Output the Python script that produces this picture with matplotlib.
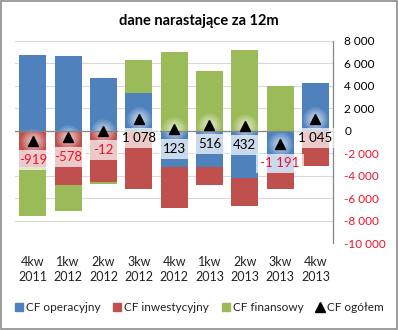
import numpy as np
import matplotlib
matplotlib.use('Agg')
import matplotlib.pyplot as plt
from matplotlib.patches import Rectangle
from matplotlib.lines import Line2D

plt.rcParams['font.family'] = ['Lato', 'DejaVu Sans']

kwartaly = ['4kw\n2011', '1kw\n2012', '2kw\n2012', '3kw\n2012', '4kw\n2012',
            '1kw\n2013', '2kw\n2013', '3kw\n2013', '4kw\n2013']
operacyjny = [6700, 6600, 4700, 3330, -3190, -3190, -4230, -3700, 4200]
inwestycyjny = [-3230, -4800, -4530, -5172, -3650, -1624, -2458, -1441, -3120]
finansowy = [-4389, -2378, -182, 2920, 6963, 5330, 7120, 3950, -35]
ogolem = [-919, -578, -12, 1078, 123, 516, 432, -1191, 1045]
y_ticks = [8000, 6000, 4000, 2000, 0, -2000, -4000, -6000, -8000, -10000]

kolory = {'CF operacyjny': '#4F81BD', 'CF inwestycyjny': '#C0504D', 'CF finansowy': '#9BBB59'}
czerwony = '#F0102A'

fig = plt.figure(figsize=(3.98, 3.30), dpi=100)
ax = fig.add_axes([0.038, 0.263, 0.799, 0.614])

x = np.arange(len(kwartaly))
pos_bottom = np.zeros(len(x))
neg_bottom = np.zeros(len(x))
for nazwa, vals in zip(kolory, [operacyjny, inwestycyjny, finansowy]):
    vals = np.array(vals, dtype=float)
    bottom = np.where(vals >= 0, pos_bottom, neg_bottom)
    ax.bar(x, vals, bottom=bottom, width=0.76, color=kolory[nazwa], zorder=2, label=nazwa)
    pos_bottom += np.clip(vals, 0, None)
    neg_bottom += np.clip(vals, None, 0)

# white glow under the total markers
for s, a in [(300, 0.14), (200, 0.16), (120, 0.18), (60, 0.2)]:
    ax.scatter(x, ogolem, s=s, color='white', alpha=a, linewidths=0, zorder=3)
ax.plot(x, ogolem, linestyle='none', marker='^', color='black', ms=7, zorder=5)

for xi, v in zip(x, ogolem):
    txt = f'{v:,}'.replace(',', ' ')
    ax.annotate(txt, (xi, v), xytext=(0, -14), textcoords='offset points',
                ha='center', va='center', fontsize=9.5,
                color=czerwony if v < 0 else 'black', zorder=6,
                bbox=dict(boxstyle='square,pad=0.3', fc='white', ec='none', alpha=0.7))

ax.set_xlim(-0.5, len(x) - 0.5)
ax.set_ylim(-10000, 8000)
ax.set_yticks(y_ticks)
ax.yaxis.tick_right()
ax.set_yticklabels([f'{t:,}'.replace(',', ' ') for t in y_ticks])
for lab, t in zip(ax.get_yticklabels(), y_ticks):
    lab.set_color(czerwony if t < 0 else 'black')
ax.tick_params(axis='y', length=0, pad=8, labelsize=8.5)
ax.set_xticks(x)
ax.set_xticklabels(kwartaly, fontsize=9, color='#222222', linespacing=1.35)
ax.tick_params(axis='x', length=0, pad=9)

ax.grid(axis='y', color='#D9D9D9', linewidth=0.8, zorder=0)
ax.set_axisbelow(True)
ax.axhline(0, color='#868686', linewidth=0.9, zorder=4)
for side in ['top', 'left', 'bottom']:
    ax.spines[side].set_visible(False)
ax.spines['right'].set_color('#868686')
ax.spines['right'].set_linewidth(0.9)

fig.text(0.5, 0.935, 'dane narastające za 12m', ha='center', va='center',
         fontsize=10.5, fontweight='bold')

uchwyty = [Line2D([], [], linestyle='none', marker='s', ms=6, color=c) for c in kolory.values()]
uchwyty.append(Line2D([], [], linestyle='none', marker='^', ms=7, color='black'))
fig.legend(uchwyty, list(kolory) + ['CF ogółem'], loc='center', bbox_to_anchor=(0.5, 0.067),
           ncol=4, frameon=False, fontsize=8.5, handlelength=0.8, handletextpad=0.2,
           columnspacing=1.0, labelcolor='#222222')

fig.add_artist(Rectangle((0.0015, 0.002), 0.996, 0.995, transform=fig.transFigure,
                         fill=False, edgecolor='#8C8C8C', linewidth=1.2))

fig.savefig('out.png', dpi=100)
